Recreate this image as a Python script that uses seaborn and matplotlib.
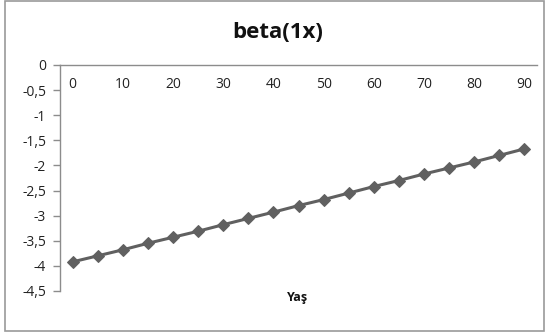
import matplotlib
matplotlib.use("Agg")
import matplotlib.pyplot as plt
import seaborn as sns
import pandas as pd
from matplotlib.patches import Rectangle
from matplotlib.ticker import FuncFormatter

ages = [0, 5, 10, 15, 20, 25, 30, 35, 40, 45, 50, 55, 60, 65, 70, 75, 80, 85, 90]
beta = [-3.92, -3.80, -3.68, -3.55, -3.43, -3.31, -3.18, -3.055, -2.93, -2.80,
        -2.68, -2.55, -2.42, -2.30, -2.17, -2.05, -1.93, -1.80, -1.67]
x_ticks = [0, 10, 20, 30, 40, 50, 60, 70, 80, 90]
y_ticks = [0, -0.5, -1, -1.5, -2, -2.5, -3, -3.5, -4, -4.5]
title = "beta(1x)"
xlabel = "Yaş"

sns.set_theme(style="white")
plt.rcParams['font.family'] = ['Open Sans', 'DejaVu Sans']

df = pd.DataFrame({"Yaş": ages, "beta": beta})

fig = plt.figure(figsize=(5.45, 3.35), dpi=100)
ax = fig.add_axes([60/545, 1-291/335, (537-60)/545, (291-65)/335])

sns.lineplot(data=df, x="Yaş", y="beta", ax=ax, color="#606060", linewidth=2.2,
             marker="D", markersize=6.5, markeredgecolor="#606060",
             markerfacecolor="#606060")

ax.set_xlim(-2.5, 92.5)
ax.set_ylim(-4.5, 0)
ax.set_xticks(x_ticks)
ax.set_yticks(y_ticks)
ax.yaxis.set_major_formatter(FuncFormatter(lambda v, p: ("%g" % v).replace(".", ",")))

for s in ["top", "right"]:
    ax.spines[s].set_visible(False)
ax.spines["bottom"].set_position(("data", 0))
ax.spines["bottom"].set_color("#8c8c8c")
ax.spines["left"].set_color("#8c8c8c")
ax.spines["bottom"].set_linewidth(1)
ax.spines["left"].set_linewidth(1)

ax.tick_params(axis="x", length=0, pad=9, labelsize=10, labelcolor="#222222")
ax.tick_params(axis="y", left=True, length=5, width=1, color="#8c8c8c",
               pad=5, labelsize=10, labelcolor="#222222")

ax.set_xlabel("")
ax.set_ylabel("")
fig.text(298/545, 1-297/335, xlabel, ha="center", va="center",
         fontsize=9, fontweight="bold", color="#111111")
fig.text(278/545, 1-32/335, title, ha="center", va="center",
         fontsize=16, fontweight="bold", color="#111111")

fig.patches.append(Rectangle((5/545, 4/335), 539/545, 330/335, transform=fig.transFigure,
                             fill=False, edgecolor="#9a9a9a", linewidth=1.2))

fig.savefig("out.png", dpi=100)
